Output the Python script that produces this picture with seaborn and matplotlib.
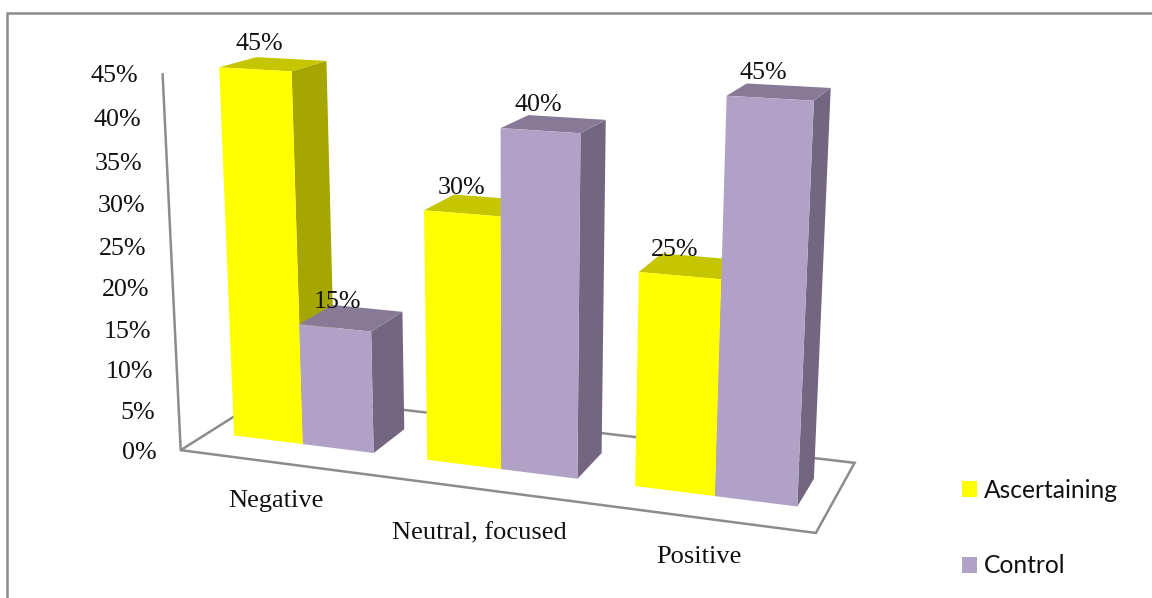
import numpy as np
import pandas as pd
import matplotlib
matplotlib.use("Agg")
import matplotlib.pyplot as plt
from matplotlib.patches import Patch, Polygon
from matplotlib.path import Path
from matplotlib.transforms import Transform
import seaborn as sns

# Chart data
moods = ["Negative", "Neutral, focused", "Positive"]
groups = ["Ascertaining", "Control"]
ascertaining = [45, 30, 25]
control = [15, 40, 45]
value_ticks = [0, 5, 10, 15, 20, 25, 30, 35, 40, 45]

# Face colours: front, top, side
front_colours = {"Ascertaining": "#FFFF00", "Control": "#B2A1C7"}
top_colours = {"Ascertaining": "#C6C600", "Control": "#887A97"}
side_colours = {"Ascertaining": "#A6A600", "Control": "#726680"}

GRID = "#8C8C8C"
SERIF = "Liberation Serif"

# Perspective camera: (category, value, depth) to canvas pixels
CAMERA = np.array([
    [0.370786, -0.053793, 0.231907, 0.553454],
    [0.016690, -0.774056, -0.039735, 0.925348],
    [-0.037085, -0.052200, 0.094506, 1.0],
])
BAR_WIDTH = 0.73
DEPTH_FRONT, DEPTH_BACK = 0.30, 0.70


class Camera(Transform):
    """Projects points of a constant-depth plane of the 3D box onto the canvas."""
    input_dims = output_dims = 2
    is_affine = False
    has_inverse = False

    def __init__(self, plane_depth):
        super().__init__()
        self.plane_depth = plane_depth

    def transform_non_affine(self, values):
        values = np.asarray(values, dtype=float)
        world = np.column_stack([
            values[:, 0], values[:, 1] / 45.0,
            np.full(len(values), self.plane_depth), np.ones(len(values)),
        ])
        h = world @ CAMERA.T
        return h[:, :2] / h[:, 2:3] * 500.0

    def transform_path_non_affine(self, path):
        return Path(self.transform_non_affine(path.vertices), path.codes)


def project(x, v, z):
    return Camera(z).transform_non_affine(np.array([[x, v]]))[0]


sns.set_theme(style="white")
fig = plt.figure(figsize=(11.52, 5.98), dpi=100, facecolor="white")
ax = fig.add_axes([0, 0, 1, 1])

table = pd.DataFrame({
    "Mood": moods * 2,
    "Group": [groups[0]] * 3 + [groups[1]] * 3,
    "Share": ascertaining + control,
})
sns.barplot(data=table, x="Mood", y="Share", hue="Group", hue_order=groups,
            palette=front_colours, width=BAR_WIDTH, gap=0, saturation=1,
            legend=False, ax=ax, errorbar=None)

bars = []
for group, container in zip(groups, ax.containers):
    for patch in container:
        bars.append((group, patch))
bars.sort(key=lambda item: (round(item[1].get_x() + item[1].get_width() / 2, 3)))

ax.set_xlim(0, 1152)
ax.set_ylim(598, 0)
ax.set_axis_off()
canvas = ax.transData

# Floor outline and value axis
floor = [project(-0.5, 0, 0), project(2.5, 0, 0), project(2.5, 0, 1), project(-0.5, 0, 1)]
ax.add_patch(Polygon(floor, closed=True, fill=False, edgecolor=GRID, lw=1.8, zorder=1))
axis_ends = np.array([project(-0.5, 0, 0), project(-0.5, 45, 0)])
ax.plot(axis_ends[:, 0], axis_ends[:, 1], color=GRID, lw=1.8, zorder=1)

for tick in value_ticks:
    px, py = project(-0.5, tick, 0)
    ax.text(px - 24, py + 2.5, f"{tick}%", ha="right", va="center", family=SERIF,
            fontsize=18.7, color="#111111", zorder=50)

# Extrude each bar: its seaborn rectangle becomes the front face
for order, (group, patch) in enumerate(bars):
    x0, x1 = patch.get_x(), patch.get_x() + patch.get_width()
    value = patch.get_height()
    base = 5 + order * 2
    near = Camera(DEPTH_FRONT)
    top = [project(x0, value, DEPTH_FRONT), project(x1, value, DEPTH_FRONT),
           project(x1, value, DEPTH_BACK), project(x0, value, DEPTH_BACK)]
    side = [project(x1, 0, DEPTH_FRONT), project(x1, value, DEPTH_FRONT),
            project(x1, value, DEPTH_BACK), project(x1, 0, DEPTH_BACK)]
    ax.add_patch(Polygon(side, closed=True, facecolor=side_colours[group],
                         edgecolor="none", zorder=base))
    ax.add_patch(Polygon(top, closed=True, facecolor=top_colours[group],
                         edgecolor="none", zorder=base))
    patch.set_transform(near + canvas)
    patch.set_linewidth(0)
    patch.set_zorder(base + 1)

    cx = (x0 + x1) / 2
    lx, ly = project(cx, value, DEPTH_FRONT)
    ax.text(lx + 6 - (cx + 0.5) * 4.7, ly - 25.5, f"{value:.0f}%", ha="center", va="center",
            family=SERIF, fontsize=18.7, color="#111111", zorder=60)

# Category names below the front edge of the floor
name_drops = [38.5, 44, 39]
for pos, mood in enumerate(moods):
    px, py = project(pos, 0, 0)
    ax.text(px - 0.5, py + name_drops[pos], mood, ha="center", va="center", family=SERIF,
            fontsize=19, color="#111111", zorder=50)

handles = [Patch(facecolor=front_colours[g], edgecolor="none", label=g) for g in groups]
ax.legend(handles=handles, loc="upper left", bbox_to_anchor=(962 / 1152, 1 - 479 / 598),
          frameon=False, prop={"family": "Lato", "size": 17.7},
          handlelength=0.61, handleheight=0.61, handletextpad=0.28,
          labelspacing=2.13, borderpad=0, borderaxespad=0, labelcolor="#111111")

# Chart frame: only the top and left borders fall inside the canvas
ax.plot([7, 7, 1152], [598, 13, 13], color=GRID, lw=1.8, zorder=0, solid_joinstyle="miter")

fig.savefig("out.png", dpi=100, facecolor="white")
